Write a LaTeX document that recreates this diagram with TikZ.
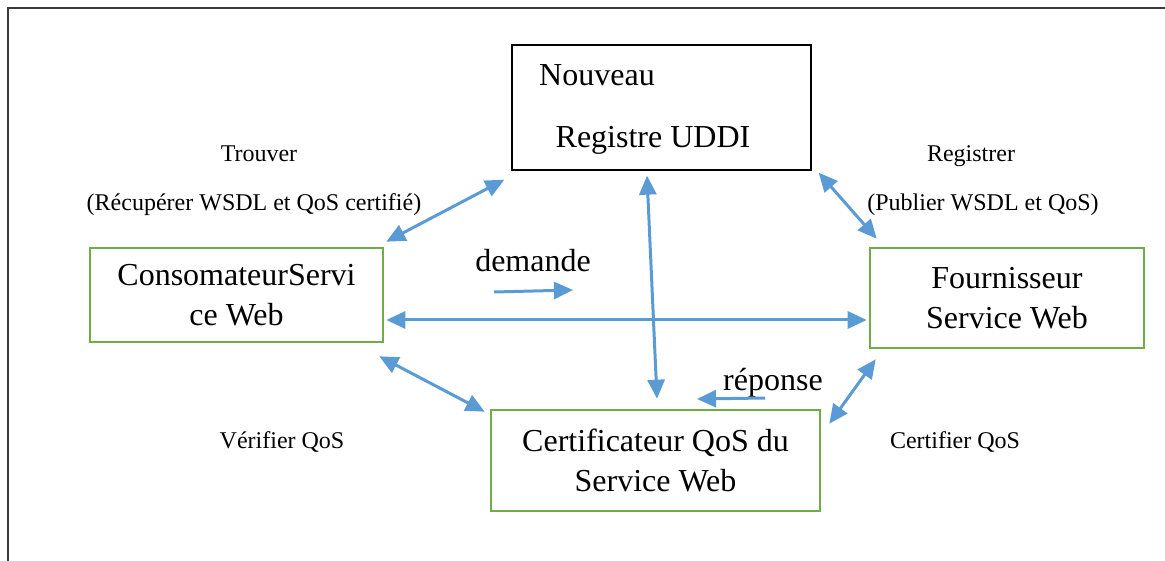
\documentclass[tikz,border=0pt]{standalone}
\usepackage{fontspec}
\setmainfont{Liberation Serif}
\usetikzlibrary{arrows.meta,calc}
\definecolor{linkblue}{HTML}{5B9BD5}
\definecolor{boxgreen}{HTML}{70AD47}
\definecolor{framegray}{HTML}{3A3A3A}
\begin{document}
\begin{tikzpicture}[x=1pt,y=-1pt,
  big/.style={font=\fontsize{32}{40}\selectfont},
  small/.style={font=\fontsize{24}{28}\selectfont},
  greenbox/.style={draw=boxgreen,line width=2.6pt,inner sep=0pt,align=center,big},
  blackbox/.style={draw=black,line width=1.3pt,inner sep=0pt},
  tip/.tip={Triangle[length=19pt,width=17pt]},
  link/.style={draw=linkblue,line width=3pt,tip-tip},
  oneway/.style={draw=linkblue,line width=3pt,-tip},
  label/.style={anchor=base,inner sep=0pt}]
\useasboundingbox (0,0) rectangle (1165,561);
% outer frame (top and left edges only)
\draw[framegray,line width=2.2pt] (8,561) -- (8,8) -- (1165,8);

% boxes
\node[blackbox,minimum width=299pt,minimum height=125pt] (uddi) at (661.5,107.5) {};
\node[label,big] (nouveau) at (597,86) {Nouveau};
\node[label,big] (registre) at (653,148) {Registre UDDI};

\node[greenbox,minimum width=293pt,minimum height=94pt] (cons) at (236.5,295) {ConsomateurServi\\ce Web};
\node[greenbox,minimum width=274pt,minimum height=100pt] (four) at (1007,298) {Fournisseur\\Service Web};
\node[greenbox,minimum width=329pt,minimum height=101pt] (cert) at (655.5,460.5) {Certificateur QoS du\\Service Web};

% labels
\node[label,small] (trouver) at (259,162) {Trouver};
\node[label,small] (recup) at (254,211) {(Récupérer WSDL et QoS certifié)};
\node[label,small] (registrer) at (971,162) {Registrer};
\node[label,small] (publier) at (983,211) {(Publier WSDL et QoS)};
\node[label,big] (demande) at (533,272) {demande};
\node[label,big] (reponse) at (773,391) {réponse};
\node[label,small] (verifier) at (282,448) {Vérifier QoS};
\node[label,small] (certifier) at (955,448) {Certifier QoS};

% connectors
\draw[link] ($(cons.north east)+(2,-5)$) -- ($(uddi.south west)+(-7,9)$);
\draw[link] ($(uddi.south east)+(7,2)$) -- ($(four.north west)+(8,-8)$);
\draw[link] ($(uddi.south)+(-14.5,5)$) -- ($(cert.north)+(1.5,-10)$);
\draw[link] ($(cons.east)+(2,25)$) -- ($(four.west)+(-2,22)$);
\draw[link] ($(cons.south east)+(-5,13)$) -- ($(cert.north west)+(-5,3)$);
\draw[link] ($(four.south west)+(7,10)$) -- ($(cert.north east)+(8,15)$);

% request / response hints
\coordinate (dfrom) at ($(demande.base)+(-39,20)$);
\coordinate (dto) at ($(demande.base)+(40,18)$);
\draw[oneway] (dfrom) -- (dto);
\coordinate (rfrom) at ($(reponse.base)+(-8,7)$);
\coordinate (rto) at ($(reponse.base)+(-76,8)$);
\draw[oneway] (rfrom) -- (rto);
\end{tikzpicture}
\end{document}
